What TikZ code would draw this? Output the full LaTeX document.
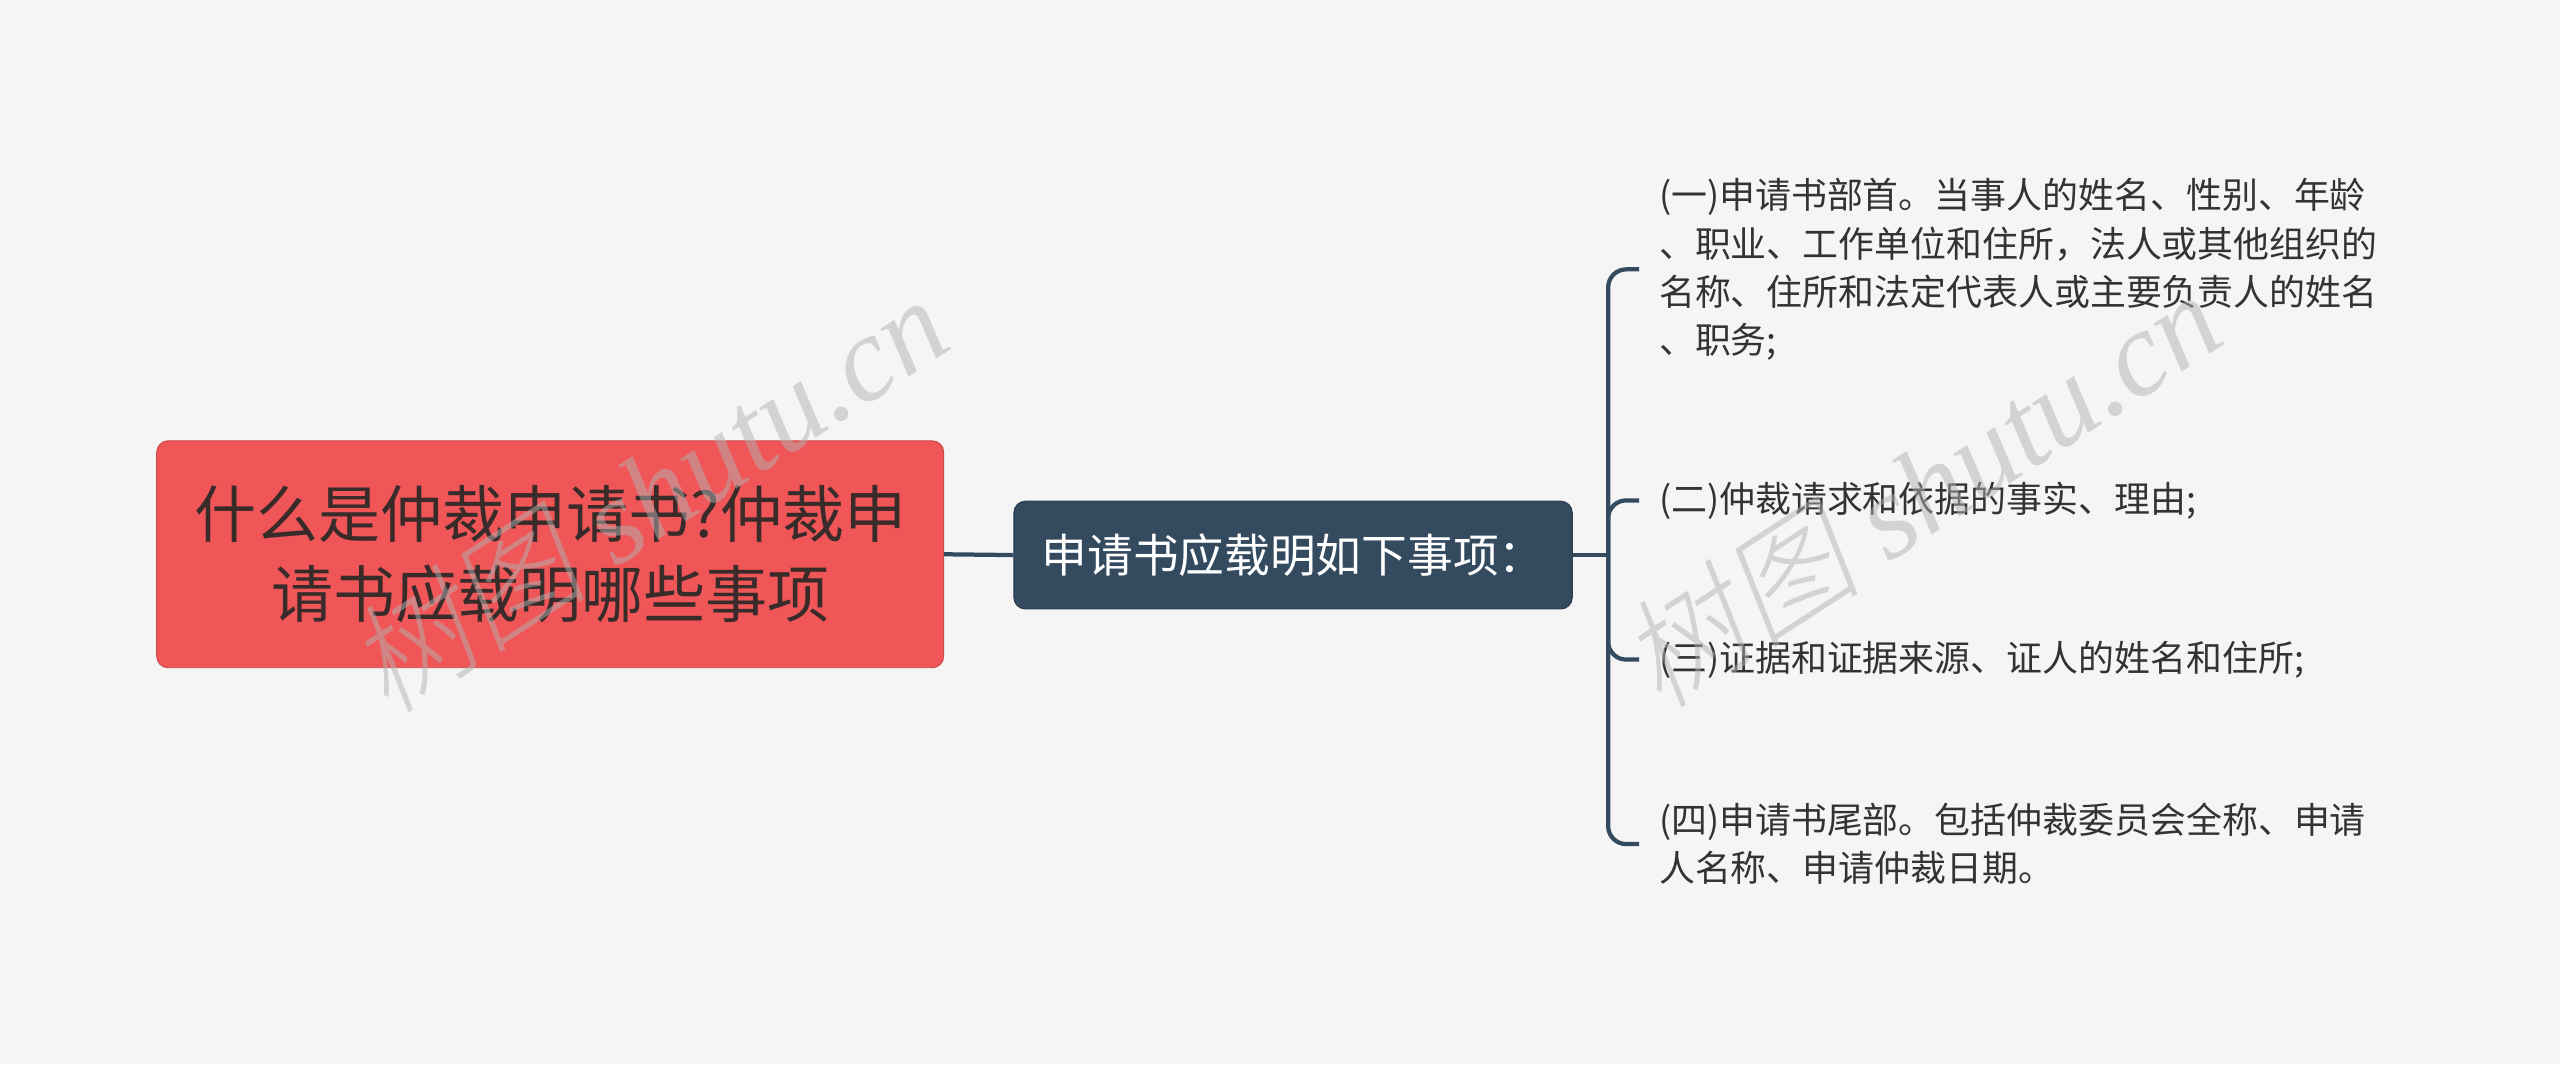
\documentclass[tikz,border=0pt]{standalone}
\usepackage{xcolor}
\usepackage{fontspec}
\setmainfont{Liberation Serif}
\newfontfamily\cjk{Noto Sans CJK SC}
\newfontfamily\wmcjk[FakeSlant=0.2]{Noto Sans CJK SC Light}
\usetikzlibrary{positioning, calc}

\definecolor{bgcol}{HTML}{F5F5F5}
\definecolor{rootred}{HTML}{F05657}
\definecolor{slate}{HTML}{344A5F}
\definecolor{roottext}{HTML}{3A2B2B}
\definecolor{leaftext}{HTML}{333333}

\begin{document}
\begin{tikzpicture}[x=1pt, y=1pt,
    root/.style={draw=rootred!85!black, line width=0.6pt, fill=rootred, rounded corners=7pt, minimum width=482pt, minimum height=139pt, align=center, text=roottext, font=\cjk\fontsize{38}{49}\selectfont},
    topic/.style={draw=slate!80!black, line width=0.6pt, fill=slate, rounded corners=7pt, minimum width=342pt, minimum height=66pt, align=center, text=white, font=\cjk\fontsize{28}{34}\selectfont},
    leaf/.style={anchor=west, inner xsep=12pt, align=left, text=leaftext, font=\cjk\fontsize{22}{29.5}\selectfont},
    link/.style={draw=slate, line width=2.6pt, rounded corners=11pt},
    wmark/.style={text=black!30, text opacity=0.5, rotate=33, font=\fontsize{74}{74}\selectfont}
]
    \fill[bgcol] (0,0) rectangle (1568,652);

    \node[root] (root) at (337,312.5) {什么是仲裁申请书?仲裁申\\请书应载明哪些事项};
    \node[topic] (items) at (792,312) {申请书应载明如下事项：};
    \coordinate (fork) at (985,312);

    \node[leaf] (first) at (1004,487) {(一)申请书部首。当事人的姓名、性别、年龄\\、职业、工作单位和住所，法人或其他组织的\\名称、住所和法定代表人或主要负责人的姓名\\、职务;};
    \node[leaf] (second) at (1004,345.5) {(二)仲裁请求和依据的事实、理由;};
    \node[leaf] (third) at (1004,248) {(三)证据和证据来源、证人的姓名和住所;};
    \node[leaf] (fourth) at (1004,135) {(四)申请书尾部。包括仲裁委员会全称、申请\\人名称、申请仲裁日期。};

    \draw[link] (root.east) -- (items.west);
    \draw[link] (items.east) -- (fork);
    \foreach \leafname in {first, second, third, fourth}
        \draw[link] (fork) |- (\leafname.west);

    % watermark
    \node[wmark] at (396,350) {{\wmcjk 树图} \textit{shutu.cn}};
    \node[wmark] at (1176,353) {{\wmcjk 树图} \textit{shutu.cn}};
\end{tikzpicture}
\end{document}
